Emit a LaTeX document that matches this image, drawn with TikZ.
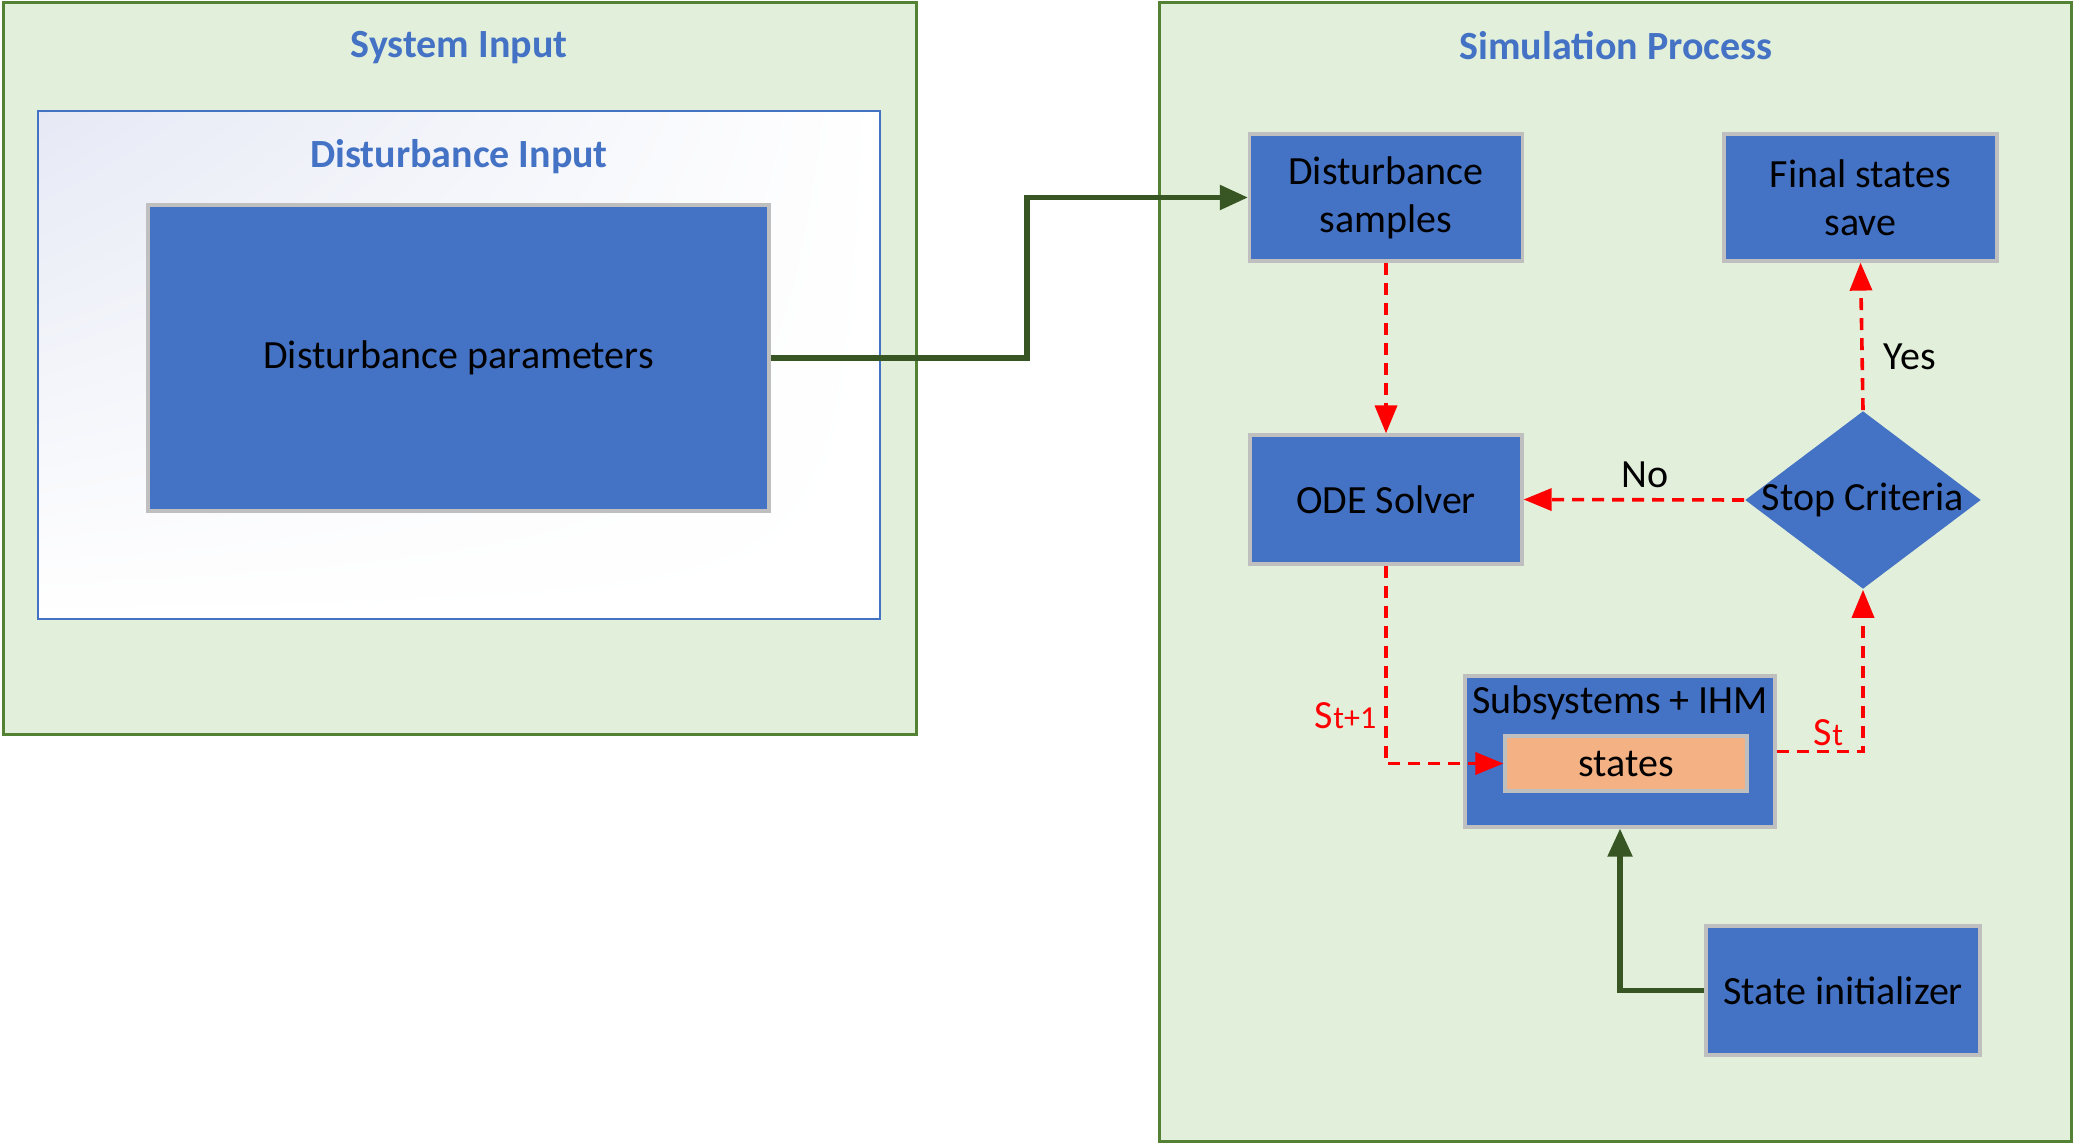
\documentclass[tikz,border=0pt]{standalone}
\usepackage{fontspec}
\setmainfont{Carlito}
\usetikzlibrary{shapes.geometric,arrows.meta,shadings}

\definecolor{panelgreen}{HTML}{E2EFDA}
\definecolor{paneledge}{HTML}{548235}
\definecolor{boxblue}{HTML}{4472C4}
\definecolor{boxedge}{HTML}{BFBFBF}
\definecolor{stateorange}{HTML}{F4B183}
\definecolor{flowgreen}{HTML}{375623}
\definecolor{lavender}{HTML}{E6E9F5}

\tikzstyle{panel}=[fill=panelgreen, draw=paneledge, line width=0.75pt]
\tikzstyle{paneltitle}=[text=boxblue, font=\bfseries]
\tikzstyle{block}=[rectangle, fill=boxblue, draw=boxedge, line width=0.8pt, align=center, inner sep=0pt]
\tikzstyle{dashflow}=[draw=red, line width=0.9pt, dash pattern=on 3pt off 2pt, -{Triangle[length=7pt, width=5.5pt]}]
\tikzstyle{solidflow}=[draw=flowgreen, line width=1.3pt, -{Triangle[length=7pt, width=6pt]}]
\tikzstyle{redtag}=[text=red, inner sep=1pt]

\begin{document}
\begin{tikzpicture}[x=0.25pt, y=-0.25pt]
    \useasboundingbox (0,0) rectangle (2075,1144);

    \path[panel] (3,3) rectangle (916,734);
    \path[panel] (1159,3) rectangle (2071,1141);
    \shade[upper left=lavender, upper right=white, lower left=white, lower right=white]
        (38,111) rectangle (880,619);
    \draw[boxblue, line width=0.5pt] (38,111) rectangle (880,619);

    \path (459,48) node[paneltitle] (sysin) {System Input};
    \path (1616,46) node[paneltitle] (simproc) {Simulation Process};
    \path (459,157) node[paneltitle] (distin) {Disturbance Input};

    \path (458.5,358) node[block, minimum width=155.25pt, minimum height=76.5pt] (params) {Disturbance parameters};
    \path (1386,197.5) node[block, minimum width=68.25pt, minimum height=31.75pt] (samples) {Disturbance\\samples};
    \path (1860.5,197.5) node[block, minimum width=68.25pt, minimum height=31.75pt] (final) {Final states\\save};
    \path (1386,499.5) node[block, minimum width=68pt, minimum height=32.25pt] (ode) {ODE Solver};
    \path (1863,500) node[diamond, fill=boxblue, minimum width=59pt, minimum height=44.5pt, inner sep=0pt] (stop) {};
    \path (stop) node (stoptext) {Stop Criteria};
    \path (1620,751.5) node[block, minimum width=77.5pt, minimum height=37.75pt] (sub) {};
    \path (1620,703) node (subtext) {Subsystems + IHM};
    \path (1626,763.5) node[block, fill=stateorange, minimum width=60.5pt, minimum height=13.75pt] (states) {states};
    \path (1843,990.5) node[block, minimum width=68.5pt, minimum height=32.25pt] (init) {State initializer};

    \coordinate (jog) at (1027,358);

    \draw[solidflow] (params.east) -- (jog) |- (samples.west);
    \draw[solidflow] (init.west) -| (sub.south);

    \draw[dashflow] (samples) -- (ode);
    \draw[dashflow] (stop.west) -- (ode.east) node[pos=0.45, above=0.5pt, inner sep=2pt] {No};
    \draw[dashflow] (stop.north) -- (final.south) node[pos=0.36, right=3pt, inner sep=2pt] {Yes};
    \draw[dashflow] (ode.south) |- (states.west) node[pos=0.38, left=1pt, redtag] {S{\footnotesize t+1}};
    \draw[dashflow] (sub.east) -| (stop.south) node[pos=0.3, above, redtag] {S{\footnotesize t}};
\end{tikzpicture}
\end{document}
